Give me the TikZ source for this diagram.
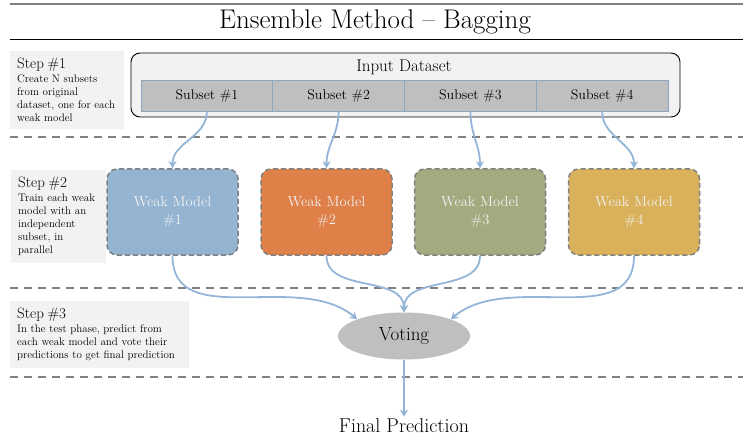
\documentclass[tikz,border=0pt]{standalone}
\usepackage{amssymb}
\usepackage{tikz}
\usetikzlibrary{shapes}
\usetikzlibrary{arrows.meta}
\tikzset{>={Stealth[width=8pt,length=7pt,inset=2pt]}}
\definecolor{rulegray}{HTML}{7F7F7F}
\definecolor{stepgray}{HTML}{F2F2F2}
\definecolor{cellgray}{HTML}{BFBFBF}
\definecolor{cellline}{HTML}{8CA5C0}
\definecolor{flowblue}{HTML}{92B5D8}
\definecolor{modelblue}{HTML}{94B4D2}
\definecolor{modelorange}{HTML}{DF8049}
\definecolor{modelolive}{HTML}{A5A97F}
\definecolor{modelgold}{HTML}{D9B15B}
\tikzset{
  steptext/.style={anchor=north west, fill=stepgray, inner sep=7pt,
    align=left, font=\fontsize{11}{13}\selectfont},
  cell/.style={draw=cellline, fill=cellgray, line width=0.8pt,
    minimum width=131.75pt, minimum height=31pt, inner sep=0pt,
    font=\fontsize{14}{16}\selectfont},
  model/.style={draw=rulegray, dashed, dash pattern=on 5pt off 3pt,
    line width=1.5pt, rounded corners=10pt, minimum width=131pt,
    minimum height=86pt, text=white!95!black, align=center,
    font=\fontsize{14.5}{18}\selectfont},
  flow/.style={->, draw=flowblue, line width=1.8pt},
  split/.style={draw=rulegray, line width=1.3pt, dash pattern=on 8pt off 6pt}
}
\newcommand{\STEP}[1]{{\fontsize{15}{19}\selectfont Step \##1}}

\begin{document}
\begin{tikzpicture}[x=1pt,y=1pt]
  \useasboundingbox (0,0) rectangle (743,-438);

  % title
  \draw[rulegray, line width=2pt] (10,-4) -- (743,-4);
  \node[font=\fontsize{27}{32}\selectfont] (title) at (375,-22)
  {Ensemble Method -- Bagging};
  \draw[black, line width=0.9pt] (10,-39) -- (743,-39);

  % step labels
  \node[steptext, text width=100pt, minimum height=78pt] (step1) at (10,-51)
  {\STEP{1}\\[1pt]Create N subsets\\from original\\dataset, one for each\\weak model};
  \node[steptext, text width=81pt, minimum height=91pt] (step2) at (11,-170)
  {\STEP{2}\\[1pt]Train each weak\\model with an\\independent\\subset, in\\parallel};
  \node[steptext, text width=165pt, minimum height=65pt] (step3) at (10,-301)
  {\STEP{3}\\[1pt]In the test phase, predict from\\each weak model and vote their\\predictions to get final prediction};

  % dataset
  \node[draw=black, fill=stepgray, rounded corners=9pt, line width=0.9pt,
  minimum width=549pt, minimum height=64pt] (data) at (405.5,-85) {};
  \node[font=\fontsize{17}{20}\selectfont] (datalabel) at (404,-67)
  {Input Dataset};
  \foreach \i in {1,...,4}
    \node[cell] (sub\i) at ({141+131.75*(\i-0.5)},-95.5) {Subset \#\i};

  % weak models
  \node[model, fill=modelblue]   (model1) at (172.5,-212) {Weak Model\\\#1};
  \node[model, fill=modelorange] (model2) at (326.5,-212) {Weak Model\\\#2};
  \node[model, fill=modelolive]  (model3) at (480,-212)   {Weak Model\\\#3};
  \node[model, fill=modelgold]   (model4) at (634,-212)   {Weak Model\\\#4};

  % voting
  \node[ellipse, fill=cellgray, minimum width=132pt, minimum height=47pt,
  font=\fontsize{19}{22}\selectfont] (vote) at (404,-336) {Voting};
  \node[font=\fontsize{20}{23}\selectfont, inner sep=2pt] (final)
  at (404,-426) {Final Prediction};

  % separators
  \draw[split] (10,-137) -- (743,-137);
  \draw[split] (10,-288) -- (743,-288);
  \draw[split] (10,-377) -- (743,-377);

  % flows
  \foreach \i in {1,...,4}
    \draw[flow] (sub\i.south) to[out=-90,in=90] (model\i.north);
  \draw[flow] (model1.south) to[out=-90,in=140] (vote.north west);
  \draw[flow] (model2.south) to[out=-90,in=90] (vote.north);
  \draw[flow] (model3.south) to[out=-90,in=90] (vote.north);
  \draw[flow] (model4.south) to[out=-90,in=40] (vote.north east);
  \draw[flow] (vote.south) -- (final.north);

\end{tikzpicture}
\end{document}
